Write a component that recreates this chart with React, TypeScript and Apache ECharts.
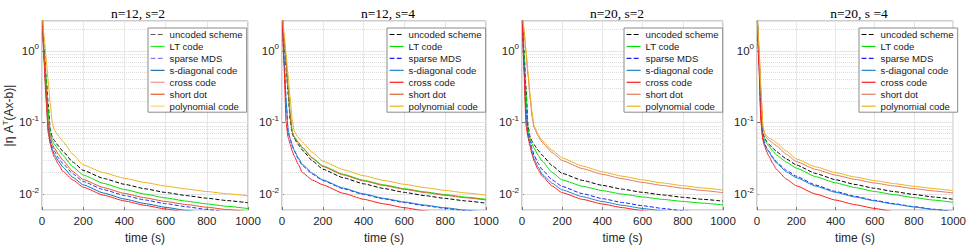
import React, { useEffect, useRef } from 'react';
import * as echarts from 'echarts';

const TIME = [0, 10, 20, 30, 40, 50, 60, 80, 100, 150, 200, 300, 400, 500, 600, 700, 800, 900, 1000];
const SERIES_NAMES = ['uncoded scheme', 'LT code', 'sparse MDS', 's-diagonal code', 'cross code', 'short dot', 'polynomial code'];
const PANEL_TITLES = ['n=12, s=2', 'n=12, s=4', 'n=20, s=2', 'n=20, s =4'];
const X_MIN = 0;
const X_MAX = 1000;
const X_INTERVAL = 200;
const Y_MIN = 0.006;
const Y_MAX = 2.6;
const MINOR_Y = [0.007, 0.008, 0.009, 0.02, 0.03, 0.04, 0.05, 0.06, 0.07, 0.08, 0.09, 0.2, 0.3, 0.4, 0.5, 0.6, 0.7, 0.8, 0.9, 2];

// Panel 1: n=12, s=2
const P1_UNCODED = [4, 1.1, 0.45, 0.18, 0.08, 0.062, 0.056, 0.047, 0.040, 0.028, 0.0215, 0.01655, 0.01374, 0.01189, 0.01057, 0.00957, 0.00879, 0.00814, 0.0076];
const P1_LT = [4, 1.0, 0.4, 0.14, 0.07, 0.056, 0.05, 0.042, 0.035, 0.024, 0.0185, 0.01411, 0.01163, 0.01002, 0.00887, 0.0080, 0.00732, 0.00677, 0.0063];
const P1_SMDS = [4, 0.85, 0.28, 0.09, 0.058, 0.046, 0.040, 0.032, 0.027, 0.0192, 0.0150, 0.01155, 0.00959, 0.0083, 0.00738, 0.00668, 0.00614, 0.00567, 0.0053];
const P1_SDIAG = [4, 0.8, 0.25, 0.08, 0.054, 0.042, 0.036, 0.029, 0.024, 0.0172, 0.0135, 0.01035, 0.00857, 0.0074, 0.00656, 0.00594, 0.00544, 0.00503, 0.0047];
const P1_CROSS = [4, 0.7, 0.2, 0.072, 0.05, 0.039, 0.033, 0.026, 0.021, 0.0158, 0.0125, 0.00967, 0.00805, 0.00699, 0.00622, 0.00564, 0.00518, 0.00481, 0.0045];
const P1_SHORT = [4, 0.9, 0.3, 0.1, 0.062, 0.05, 0.044, 0.036, 0.030, 0.0207, 0.0160, 0.01234, 0.01026, 0.0089, 0.0079, 0.00717, 0.00658, 0.0061, 0.0057];
const P1_POLY = [4, 1.6, 0.8, 0.38, 0.18, 0.1, 0.078, 0.065, 0.055, 0.036, 0.0255, 0.01989, 0.01666, 0.01454, 0.01298, 0.01182, 0.01089, 0.01013, 0.0095];

// Panel 2: n=12, s=4
const P2_UNCODED = [4, 1.4, 0.6, 0.25, 0.11, 0.07, 0.06, 0.049, 0.041, 0.029, 0.0223, 0.01696, 0.01395, 0.0120, 0.0106, 0.00955, 0.00873, 0.00806, 0.0075];
const P2_LT = [4, 1.5, 0.7, 0.3, 0.13, 0.074, 0.062, 0.052, 0.044, 0.032, 0.0248, 0.01894, 0.01563, 0.01347, 0.01193, 0.01077, 0.00985, 0.0091, 0.0085];
const P2_SMDS = [4, 0.8, 0.2, 0.075, 0.058, 0.047, 0.040, 0.031, 0.025, 0.019, 0.0155, 0.01194, 0.00992, 0.00859, 0.00764, 0.00692, 0.00635, 0.00588, 0.0055];
const P2_SDIAG = [4, 0.8, 0.21, 0.078, 0.06, 0.049, 0.041, 0.032, 0.026, 0.0195, 0.0158, 0.01217, 0.01011, 0.00875, 0.00779, 0.00705, 0.00647, 0.00599, 0.0056];
const P2_CROSS = [4, 0.6, 0.1, 0.062, 0.05, 0.04, 0.034, 0.026, 0.020, 0.0157, 0.0135, 0.0103, 0.00849, 0.00732, 0.00648, 0.00585, 0.00535, 0.00494, 0.0046];
const P2_SHORT = [4, 1.5, 0.7, 0.3, 0.13, 0.075, 0.063, 0.053, 0.045, 0.0315, 0.0243, 0.01857, 0.01531, 0.0132, 0.01169, 0.01055, 0.00965, 0.00892, 0.0083];
const P2_POLY = [4, 1.8, 0.9, 0.45, 0.22, 0.11, 0.075, 0.062, 0.053, 0.038, 0.029, 0.0220, 0.0181, 0.01554, 0.01372, 0.01236, 0.01128, 0.01042, 0.0097];

// Panel 3: n=20, s=2
const P3_UNCODED = [4, 1.0, 0.3, 0.09, 0.064, 0.055, 0.049, 0.041, 0.035, 0.025, 0.0195, 0.01559, 0.01328, 0.01174, 0.01061, 0.00975, 0.00905, 0.00848, 0.0080];
const P3_LT = [4, 0.9, 0.25, 0.08, 0.06, 0.05, 0.044, 0.035, 0.029, 0.0201, 0.0158, 0.01292, 0.0112, 0.01002, 0.00915, 0.00847, 0.00793, 0.00749, 0.0071];
const P3_SMDS = [4, 0.7, 0.15, 0.07, 0.055, 0.043, 0.035, 0.027, 0.022, 0.0158, 0.0128, 0.01019, 0.00867, 0.00765, 0.0069, 0.00633, 0.00587, 0.0055, 0.00518];
const P3_SDIAG = [4, 0.6, 0.12, 0.066, 0.05, 0.039, 0.031, 0.024, 0.019, 0.0142, 0.0115, 0.00923, 0.00789, 0.00699, 0.00633, 0.00583, 0.00542, 0.00508, 0.0048];
const P3_CROSS = [4, 0.5, 0.09, 0.062, 0.047, 0.036, 0.029, 0.022, 0.018, 0.0130, 0.0105, 0.00848, 0.00729, 0.00649, 0.00589, 0.00543, 0.00506, 0.00476, 0.0045];
const P3_SHORT = [4, 1.9, 0.95, 0.45, 0.22, 0.12, 0.085, 0.065, 0.053, 0.038, 0.0295, 0.02274, 0.01891, 0.0164, 0.01457, 0.01322, 0.01212, 0.01124, 0.0105];
const P3_POLY = [4, 2.0, 1.0, 0.5, 0.25, 0.14, 0.09, 0.068, 0.056, 0.041, 0.032, 0.02467, 0.02051, 0.01779, 0.01581, 0.01434, 0.01315, 0.01219, 0.0114];

// Panel 4: n=20, s=4
const P4_UNCODED = [4, 0.9, 0.2, 0.07, 0.06, 0.054, 0.050, 0.044, 0.039, 0.031, 0.0256, 0.0194, 0.01592, 0.01367, 0.01206, 0.01085, 0.00991, 0.00914, 0.0085];
const P4_LT = [4, 0.9, 0.2, 0.068, 0.057, 0.051, 0.047, 0.040, 0.035, 0.028, 0.0231, 0.01751, 0.01439, 0.01236, 0.0109, 0.00982, 0.00896, 0.00827, 0.0077];
const P4_SMDS = [4, 0.7, 0.12, 0.062, 0.05, 0.044, 0.040, 0.033, 0.028, 0.0215, 0.0178, 0.01338, 0.01092, 0.00933, 0.0082, 0.00736, 0.0067, 0.00616, 0.00573];
const P4_SDIAG = [4, 0.7, 0.12, 0.06, 0.048, 0.043, 0.039, 0.032, 0.027, 0.0205, 0.0170, 0.01292, 0.01062, 0.00913, 0.00806, 0.00726, 0.00663, 0.00612, 0.0057];
const P4_CROSS = [4, 0.6, 0.1, 0.057, 0.046, 0.039, 0.034, 0.027, 0.022, 0.0162, 0.0131, 0.01002, 0.00828, 0.00714, 0.00632, 0.00571, 0.00523, 0.00483, 0.0045];
const P4_SHORT = [4, 1.1, 0.28, 0.085, 0.067, 0.061, 0.057, 0.052, 0.047, 0.036, 0.0285, 0.02211, 0.01846, 0.01605, 0.01431, 0.0130, 0.01195, 0.0111, 0.0104];
const P4_POLY = [4, 1.2, 0.3, 0.09, 0.07, 0.065, 0.061, 0.057, 0.052, 0.040, 0.031, 0.0240, 0.0200, 0.01736, 0.01546, 0.01402, 0.0129, 0.01197, 0.0112];

const PANEL_DATA = [
  [P1_UNCODED, P1_LT, P1_SMDS, P1_SDIAG, P1_CROSS, P1_SHORT, P1_POLY],
  [P2_UNCODED, P2_LT, P2_SMDS, P2_SDIAG, P2_CROSS, P2_SHORT, P2_POLY],
  [P3_UNCODED, P3_LT, P3_SMDS, P3_SDIAG, P3_CROSS, P3_SHORT, P3_POLY],
  [P4_UNCODED, P4_LT, P4_SMDS, P4_SDIAG, P4_CROSS, P4_SHORT, P4_POLY],
];

const LINE_TYPES = ['dashed', 'solid', 'dashed', 'solid', 'solid', 'solid', 'solid'];
const PANEL_COLORS = [
  ['#000000', '#00e000', '#2a2aff', '#0072bd', '#ff2020', '#e0561c', '#edb120'],
  ['#000000', '#00e000', '#1a1aff', '#1f84c8', '#ff1a1a', '#d9622b', '#edb120'],
  ['#000000', '#00e000', '#1a1aff', '#1f84c8', '#ff1a1a', '#e07a5c', '#edb120'],
  ['#000000', '#00e000', '#1a1aff', '#1f84c8', '#ff1a1a', '#e07a5c', '#edb120'],
];
const LEGEND_COLORS = [
  ['#555555', '#22ee22', '#8080ff', '#1f6fb5', '#f29494', '#e05a24', '#f6d284'],
  PANEL_COLORS[1],
  PANEL_COLORS[2],
  PANEL_COLORS[3],
];

const GRIDS = [
  { left: 42, width: 206, title: 138, legendLeft: 148 },
  { left: 282, width: 204, title: 388, legendLeft: 387 },
  { left: 522, width: 201, title: 617, legendLeft: 624 },
  { left: 757, width: 197, title: 859, legendLeft: 859 },
];
const GRID_TOP = 21;
const GRID_HEIGHT = 197;

const FONT = '"Liberation Sans", Arial, sans-serif';

function yLabel(v: number) {
  const e = Math.log10(v);
  const r = Math.round(e);
  if (Math.abs(e - r) > 1e-6) return '';
  return `{b|10}{s|${r}}`;
}

export default function App() {
  const ref = useRef<HTMLDivElement>(null);
  useEffect(() => {
    if (!ref.current) return;
    const chart = echarts.init(ref.current, undefined, { renderer: 'svg' });
    const grid: any[] = [];
    const xAxis: any[] = [];
    const yAxis: any[] = [];
    const series: any[] = [];
    const legend: any[] = [];
    const graphic: any[] = [];

    GRIDS.forEach((g, i) => {
      grid.push({
        left: g.left, top: GRID_TOP, width: g.width, height: GRID_HEIGHT,
        show: true, borderColor: '#9a9a9a', borderWidth: 1, backgroundColor: 'transparent',
      });
      xAxis.push({
        type: 'value', gridIndex: i, min: X_MIN, max: X_MAX, interval: X_INTERVAL,
        name: 'time (s)', nameLocation: 'middle', nameGap: 15,
        nameTextStyle: { fontFamily: FONT, fontSize: 12, color: '#262626' },
        axisLine: { show: false },
        axisTick: { show: true, inside: true, length: 3, lineStyle: { color: '#777' } },
        axisLabel: {
          margin: 5, fontFamily: FONT, fontSize: 11.5, color: '#262626',
          showMinLabel: true, showMaxLabel: true, formatter: (v: number) => String(v),
        },
        splitLine: { show: true, lineStyle: { color: '#e6e6e6', width: 1 } },
      });
      yAxis.push({
        type: 'log', logBase: 10, gridIndex: i, min: Y_MIN, max: Y_MAX,
        name: i === 0 ? '{a||η A}{s|T}{a|(Ax-b)|}' : '',
        nameLocation: 'middle', nameGap: 24, nameRotate: 90,
        nameTextStyle: {
          fontFamily: FONT, color: '#262626',
          rich: {
            a: { fontFamily: FONT, fontSize: 12, lineHeight: 16, color: '#262626' },
            s: { fontFamily: FONT, fontSize: 8, lineHeight: 8, verticalAlign: 'top', color: '#262626' },
          },
        },
        axisLine: { show: false },
        axisTick: { show: true, inside: true, length: 3, lineStyle: { color: '#777' } },
        axisLabel: {
          margin: 3, formatter: yLabel, showMinLabel: false, showMaxLabel: false,
          rich: {
            b: { fontFamily: FONT, fontSize: 11.5, lineHeight: 16, color: '#262626' },
            s: { fontFamily: FONT, fontSize: 8, lineHeight: 8, verticalAlign: 'top', color: '#262626' },
          },
        },
        splitLine: { show: true, lineStyle: { color: '#e6e6e6', width: 1 } },
      });
      PANEL_DATA[i].forEach((vals, k) => {
        const s: any = {
          type: 'line', name: SERIES_NAMES[k], xAxisIndex: i, yAxisIndex: i,
          data: TIME.map((t, j) => [t, vals[j]]),
          symbol: 'none', showSymbol: false, smooth: 0.15, smoothMonotone: 'x',
          lineStyle: { color: PANEL_COLORS[i][k], width: 1, type: LINE_TYPES[k] },
          itemStyle: { color: PANEL_COLORS[i][k] },
          silent: true, clip: true, z: 2,
        };
        if (k === 0) {
          s.markLine = {
            silent: true, symbol: ['none', 'none'], z: 1, animation: false,
            label: { show: false },
            lineStyle: { type: 'dotted', color: '#dcdcdc', width: 1 },
            emphasis: { disabled: true },
            data: MINOR_Y.map((v) => ({ yAxis: v })),
          };
        }
        series.push(s);
      });
      legend.push({
        orient: 'vertical', left: g.legendLeft, top: 28,
        data: SERIES_NAMES.map((n, k) => ({
          name: n,
          itemStyle: { color: 'rgba(0,0,0,0)', borderColor: 'rgba(0,0,0,0)', borderWidth: 0, opacity: 0 },
          lineStyle: { color: LEGEND_COLORS[i][k], type: LINE_TYPES[k], width: 1.2 },
        })),
        itemWidth: 14, itemHeight: 9, itemGap: 1.95,
        padding: [1.5, 4, 1, 2],
        borderColor: '#8a8a8a', borderWidth: 1, backgroundColor: '#ffffff',
        selectedMode: false,
        textStyle: { fontFamily: FONT, fontSize: 9.6, lineHeight: 9, color: '#1a1a1a' },
      });
      graphic.push({
        type: 'text', x: g.title, y: 13,
        style: {
          text: PANEL_TITLES[i], align: 'center', verticalAlign: 'middle',
          font: '13.5px "Liberation Serif", "Times New Roman", serif', fill: '#000',
        },
      });
    });

    chart.setOption({
      animation: false,
      backgroundColor: '#ffffff',
      grid, xAxis, yAxis, series, legend, graphic,
    });
    return () => chart.dispose();
  }, []);
  return <div ref={ref} style={{ position: 'fixed', left: 0, top: 0, width: 969, height: 249 }} />;
}
